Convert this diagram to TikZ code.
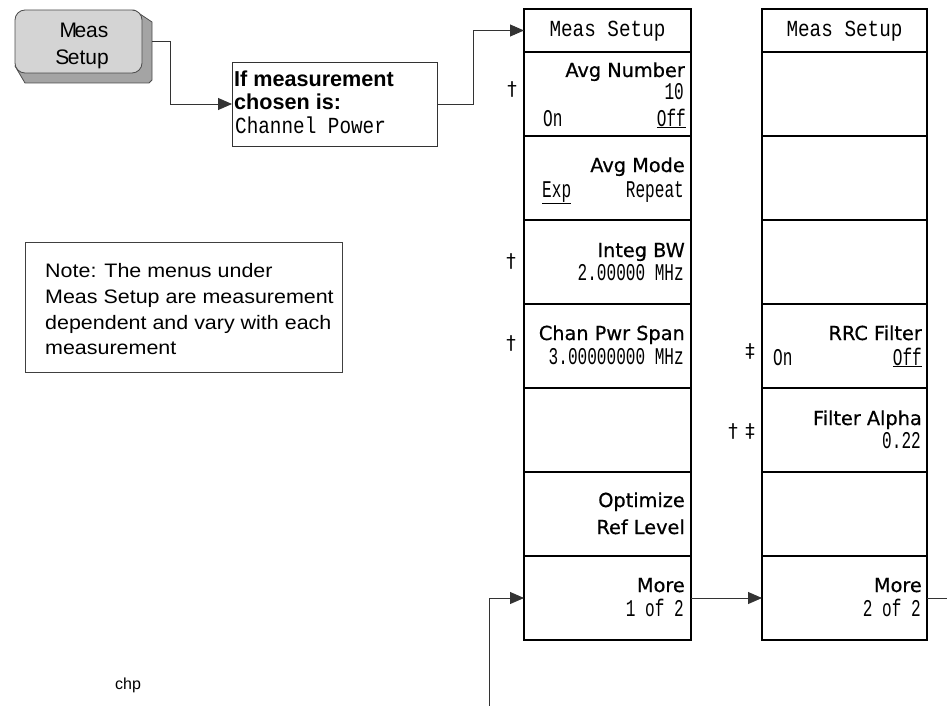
\documentclass[tikz,border=0pt]{standalone}
\usepackage{fontspec}
\usetikzlibrary{arrows.meta}
\setmainfont{Liberation Sans}
\newfontfamily\lblfont[FakeBold=0.6]{DejaVu Sans}
\newfontfamily\valfont[FakeStretch=0.67]{Liberation Mono}
\newfontfamily\hdrfont[FakeStretch=0.84]{Liberation Mono}
\newfontfamily\notefont[FakeStretch=1.1]{Liberation Sans}
\newfontfamily\symfont{DejaVu Sans}
\definecolor{keyface}{HTML}{D4D4D4}
\definecolor{keyside}{HTML}{A4A4A4}
\begin{document}
\begin{tikzpicture}[x=1pt,y=-1pt,
  menubox/.style={draw=black, line width=1.1pt, minimum height=84pt, inner sep=0pt, outer sep=0pt},
  colA/.style={menubox, minimum width=167pt},
  colB/.style={menubox, minimum width=165pt},
  lbl/.style={font=\lblfont\fontsize{19.3}{22}\selectfont, inner sep=0pt, anchor=base east},
  val/.style={font=\valfont\fontsize{24}{26}\selectfont, inner sep=0pt, anchor=base east},
  valw/.style={val, anchor=base west},
  hdr/.style={font=\hdrfont\fontsize{23}{26}\selectfont, inner sep=0pt, anchor=base},
  dagmark/.style={font=\symfont\fontsize{19}{21}\selectfont, inner sep=0pt},
  conn/.style={draw=black!80, line width=0.9pt},
  arr/.style={conn, -{Triangle[length=14pt,width=12pt]}},
  ]
\useasboundingbox (0,0) rectangle (947,706);

% hard key
\filldraw[fill=keyside, draw=black!70, line width=0.8pt]
  (134,10) -- (152,22) -- (152,80) -- (149,83) -- (25,83) -- (15,66) -- cycle;
\node[draw=black!70, fill=keyface, line width=0.8pt, rounded corners=10pt,
  minimum width=127pt, minimum height=63pt, inner sep=0pt, outer sep=0pt] (mkey) at (78.5,41.5) {};
\node[font=\fontsize{21}{22}\selectfont, inner sep=0pt, anchor=base] (mk1) at (84,38) {M\kern-2.5pt eas};
\node[font=\fontsize{21}{22}\selectfont, inner sep=0pt, anchor=base] (mk2) at (82,65) {S\kern-1.5pt etup};

% if box
\node[draw=black!80, line width=0.9pt, minimum width=205pt, minimum height=84pt, inner sep=0pt, outer sep=0pt] (ifbox) at (334.5,104) {};
\node[font=\bfseries\fontsize{21.6}{24}\selectfont, inner sep=0pt, anchor=base west] (if1) at (234,87) {If measurement};
\node[font=\bfseries\fontsize{21.6}{24}\selectfont, inner sep=0pt, anchor=base west] (if2) at (234,110) {chosen is:};
\node[hdr, anchor=base west] (if3) at (235,133) {Channel Power};

% note
\node[draw=black!75, line width=0.8pt, minimum width=317pt, minimum height=130pt, inner sep=0pt] (note) at (183.5,307) {};
\node[font=\notefont\fontsize{19.5}{22}\selectfont, inner sep=0pt, anchor=base west] (n1) at (45,277) {Note: The menus under};
\node[font=\notefont\fontsize{19.5}{22}\selectfont, inner sep=0pt, anchor=base west] (n2) at (45,303) {Meas Setup are measurement};
\node[font=\notefont\fontsize{19.5}{22}\selectfont, inner sep=0pt, anchor=base west] (n3) at (45,329) {dependent and vary with each};
\node[font=\notefont\fontsize{19.5}{22}\selectfont, inner sep=0pt, anchor=base west] (n4) at (45,354) {measurement};

\node[font=\fontsize{16}{18}\selectfont, inner sep=0pt, anchor=base west] (chp) at (115,689) {chp};

% column 1
\node[colA, minimum height=43pt] (c1h) at (607.5,30.5) {};
\node[colA] (c1k1) at (607.5,94) {};
\node[colA] (c1k2) at (607.5,178) {};
\node[colA] (c1k3) at (607.5,262) {};
\node[colA] (c1k4) at (607.5,346) {};
\node[colA] (c1k5) at (607.5,430) {};
\node[colA] (c1k6) at (607.5,514) {};
\node[colA] (c1k7) at (607.5,598) {};

\node[hdr] (c1ht) at (607.5,37) {Meas Setup};
\node[lbl] (a11) at (685,77) {Avg Number};
\node[val] (a12) at (684,100) {10};
\node[valw] (a13) at (543,126) {On};
\node[val] (a14) at (686,126) {\underline{Off}};
\node[lbl] (a21) at (685,172) {Avg Mode};
\node[valw] (a22) at (542,197) {\underline{Exp}};
\node[val] (a23) at (684,197) {Repeat};
\node[lbl] (a31) at (685,257) {Integ BW};
\node[val] (a32) at (684,280) {2.00000 MHz};
\node[lbl] (a41) at (685,340) {Chan Pwr Span};
\node[val] (a42) at (684,364) {3.00000000 MHz};
\node[lbl] (a61) at (685,507) {Optimize};
\node[lbl] (a62) at (685,534) {Ref Level};
\node[lbl] (a71) at (685,592) {More};
\node[val] (a72) at (684,616) {1 of 2};

\node[dagmark] (d1) at (512,89) {†};
\node[dagmark] (d3) at (511,261) {†};
\node[dagmark] (d4) at (511,343) {†};

% column 2
\node[colB, minimum height=43pt] (c2h) at (844.5,30.5) {};
\node[colB] (c2k1) at (844.5,94) {};
\node[colB] (c2k2) at (844.5,178) {};
\node[colB] (c2k3) at (844.5,262) {};
\node[colB] (c2k4) at (844.5,346) {};
\node[colB] (c2k5) at (844.5,430) {};
\node[colB] (c2k6) at (844.5,514) {};
\node[colB] (c2k7) at (844.5,598) {};

\node[hdr] (c2ht) at (844.5,37) {Meas Setup};
\node[lbl] (b41) at (922,340) {RRC Filter};
\node[valw] (b42) at (773,365) {On};
\node[val] (b43) at (922,365) {\underline{Off}};
\node[lbl] (b51) at (922,425) {Filter Alpha};
\node[val] (b52) at (921,448) {0.22};
\node[lbl] (b71) at (922,592) {More};
\node[val] (b72) at (921,616) {2 of 2};

\node[dagmark] (e4) at (750,351) {‡};
\node[dagmark] (e5a) at (733,431) {†};
\node[dagmark] (e5b) at (750,431) {‡};

% connectors
\draw[arr] ([xshift=10pt]mkey.east) -- ++(18,0) |- (ifbox.west);
\draw[arr] (ifbox.east) -- ++(36,0) |- (c1h.west);
\draw[arr] (c1k7.east) -- (c2k7.west);
\coordinate (bot) at (489,706);
\draw[arr] (bot) |- (c1k7.west);
\coordinate (rend) at (947,598);
\draw[conn] (c2k7.east) -- (rend);
\end{tikzpicture}
\end{document}
